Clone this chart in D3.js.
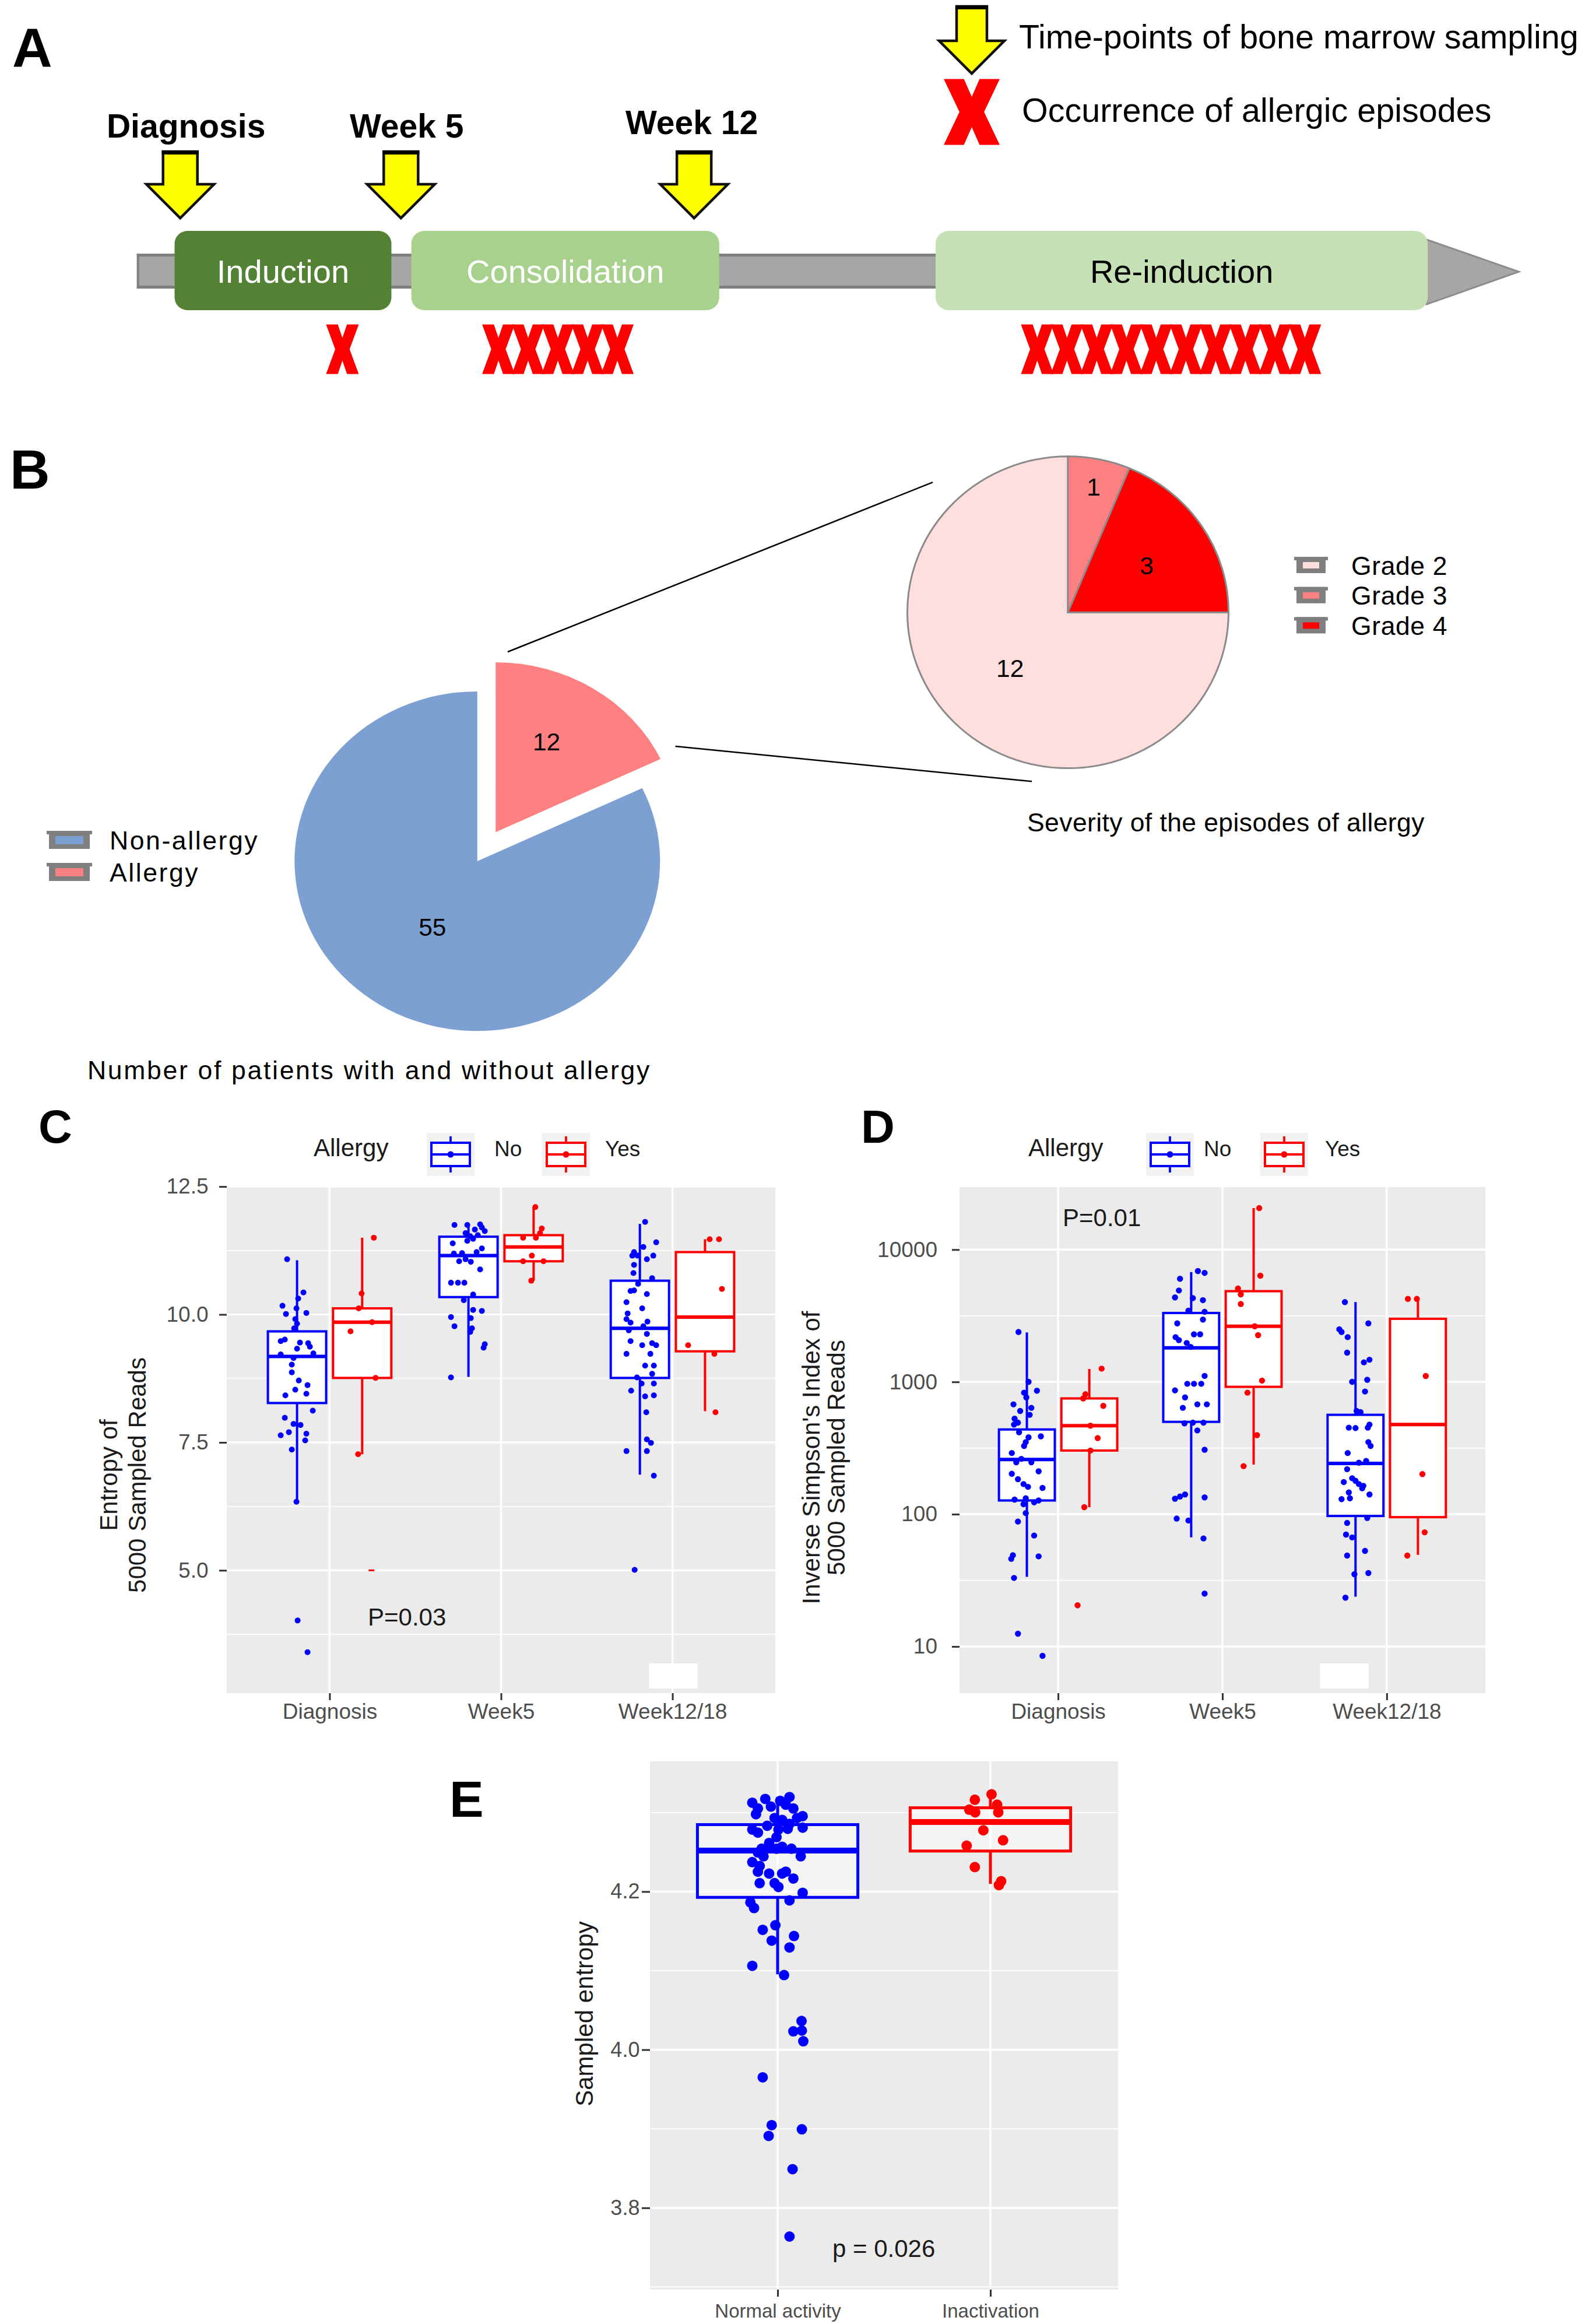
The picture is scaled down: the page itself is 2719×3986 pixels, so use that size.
<!DOCTYPE html>
<html><head><meta charset="utf-8">
<script src="https://cdn.jsdelivr.net/npm/d3@7/dist/d3.min.js"></script>
<style>html,body{margin:0;padding:0;background:#fff;} svg{display:block;}</style>
</head><body>
<svg id="fig" width="2719" height="3986" xmlns="http://www.w3.org/2000/svg"></svg>
<script>
// ===================== DATA =====================
// Panel A
const phaseNames = ["Induction", "Consolidation", "Re-induction"];
const phaseStartWeek = [0, 5.46, 17.55];
const phaseEndWeek = [5, 12.56, 28.9];
const timepointNames = ["Diagnosis", "Week 5", "Week 12"];
const timepointWeeks = [0.13, 5.22, 11.98];
const episodeCounts = [1, 5, 10];
const episodeCenterWeeks = [3.87, 8.84, 22.98];
const timelineWeeks = [-0.87, 31.0];
const legendA = ["Time-points of bone marrow sampling", "Occurrence of allergic episodes"];

// Panel B
const allergyPieLabels = ["Non-allergy", "Allergy"];
const allergyPieValues = [55, 12];
const gradeLabels = ["Grade 2", "Grade 3", "Grade 4"];
const gradeValues = [12, 1, 3];
const captionMain = "Number of patients with and without allergy";
const captionSeverity = "Severity of the episodes of allergy";

// Panels C & D (shared)
const timeCategories = ["Diagnosis", "Week5", "Week12/18"];
const allergyGroups = ["No", "Yes"];

// Panel C : entropy. stats = [lower whisker, Q1, median, Q3, upper whisker]
const cTicks = [5.0, 7.5, 10.0, 12.5];
const cMinorTicks = [3.75, 6.25, 8.75, 11.25];
const cDomain = [2.6, 12.49];
const cStatsNo = [[6.34, 8.27, 9.18, 9.67, 11.06], [8.78, 10.34, 11.15, 11.52, 11.77], [6.87, 8.76, 9.73, 10.66, 11.77]];
const cStatsYes = [[7.27, 8.76, 9.85, 10.12, 11.50], [10.66, 11.04, 11.32, 11.55, 12.10], [8.11, 9.28, 9.95, 11.22, 11.47]];
// points: [jitter (fraction of box width), value]
const cNoDiagnosis = [[-0.17,11.08],[0.11,10.43],[0.02,10.31],[-0.25,10.17],[-0.01,10.12],[-0.19,10.01],[0.16,10.03],[-0.03,9.91],[0,9.82],[-0.05,9.73],[-0.21,9.51],[-0.28,9.48],[0.05,9.45],[0.19,9.44],[0.22,9.37],[0,9.33],[0.28,9.24],[-0.28,9.22],[-0.06,9.15],[-0.09,9.02],[-0.09,8.87],[0.03,8.71],[0.18,8.62],[-0.03,8.53],[-0.2,8.42],[0.16,8.45],[0.27,8.12],[-0.21,7.98],[-0.06,7.86],[0.06,7.84],[-0.28,7.64],[-0.14,7.70],[0.16,7.67],[0.14,7.54],[-0.09,7.36],[-0.01,6.34],[0.01,4.02],[0.18,3.40]];
const cNoWeek5 = [[-0.24,11.75],[-0.02,11.75],[0.2,11.76],[0.23,11.70],[0.11,11.66],[0.28,11.63],[-0.05,11.59],[0.03,11.53],[0.16,11.55],[0.08,11.48],[-0.02,11.44],[-0.27,11.39],[0.23,11.29],[0.14,11.22],[-0.11,11.20],[-0.25,11.19],[-0.05,11.08],[-0.16,11.04],[0.04,11.03],[0.2,10.88],[-0.3,10.62],[-0.18,10.62],[-0.07,10.62],[0.08,10.39],[-0.08,10.28],[0.08,10.09],[0.23,10.07],[-0.3,9.95],[0.04,9.93],[-0.24,9.77],[0.06,9.73],[0.03,9.66],[0.28,9.42],[0.26,9.35],[-0.3,8.77]];
const cNoWeek12 = [[0.09,11.81],[0.28,11.41],[0.06,11.32],[-0.1,11.22],[-0.04,11.15],[-0.13,11.15],[0.23,11.15],[0.12,11.08],[-0.1,10.97],[-0.11,10.81],[0.21,10.71],[-0.03,10.60],[-0.1,10.47],[0.12,10.40],[-0.16,10.46],[-0.23,10.24],[0.04,10.12],[-0.21,10.02],[-0.23,9.91],[-0.16,9.84],[0.13,9.86],[0.06,9.77],[-0.19,9.69],[0.12,9.62],[-0.16,9.48],[0.04,9.40],[0.21,9.44],[0.28,9.40],[-0.23,9.23],[0.18,9.23],[0.09,9.00],[0.24,9.00],[0.21,8.84],[-0.05,8.77],[0.24,8.65],[0.03,8.65],[-0.15,8.51],[0.09,8.40],[0.24,8.42],[0.11,8.09],[0.12,7.56],[0.19,7.49],[-0.23,7.33],[0.12,7.33],[0.24,6.85],[-0.09,5.01]];
const cYesDiagnosis = [[0.2,11.50],[-0.01,10.41],[-0.06,10.12],[-0.2,9.67],[0.17,9.85],[0.23,8.76],[-0.07,7.27]];
const cYesDiagnosisFaint = [[0.16,5.0]];
const cYesWeek5 = [[0.03,12.10],[0.14,11.68],[0.11,11.59],[-0.18,11.50],[0.04,11.50],[-0.03,11.15],[-0.18,11.04],[0.17,11.04],[-0.04,10.66]];
const cYesWeek12 = [[0.08,11.47],[0.24,11.47],[0.29,10.50],[-0.29,9.40],[0.16,9.23],[0.18,8.09]];

// Panel D : inverse Simpson (log scale)
const dTicks = [10, 100, 1000, 10000];
const dMinorTicks = [31.62, 316.2, 3162];
const dDomain = [4.44, 29700];
const dStatsNo = [[33.6, 127, 259, 437, 2366], [66.8, 499, 1807, 3319, 6761], [23.8, 97, 242, 564, 4010]];
const dStatsYes = [[113, 303, 467, 750, 1253], [237, 918, 2635, 4850, 20600], [49.3, 95, 476, 3000, 4240]];
const dNoDiagnosis = [[-0.15,2384],[0.03,1002],[0.18,858],[-0.05,829],[-0.01,764],[-0.24,677],[0.08,637],[-0.12,603],[0.05,564],[-0.22,527],[-0.16,492],[-0.23,476],[-0.14,416],[0.25,388],[0.03,381],[-0.02,351],[-0.05,328],[-0.27,290],[-0.1,262],[-0.19,247],[0.08,247],[0.21,211],[-0.27,202],[-0.16,184],[-0.06,169],[0.02,161],[0.28,158],[-0.22,129],[-0.02,132],[0.21,127],[-0.06,119],[0.13,123],[-0.02,102],[-0.16,88],[0.13,69],[-0.25,49],[-0.28,46],[0.21,48],[-0.23,33],[-0.16,12.5],[0.28,8.5]];
const dNoWeek5 = [[0.12,6890],[0.24,6670],[-0.2,6020],[-0.22,4910],[-0.29,4350],[0.03,4300],[0.21,4150],[-0.05,3460],[0.24,3390],[-0.25,2770],[0.21,2960],[0.05,2290],[0.16,2290],[-0.28,2180],[-0.22,2070],[-0.08,1970],[-0.01,1840],[0.24,1110],[0.18,968],[-0.07,968],[0.05,968],[-0.29,863],[-0.11,764],[0.11,677],[0.28,677],[-0.15,637],[0.03,492],[-0.12,486],[0.22,492],[0.11,430],[0.24,307],[-0.2,136],[-0.11,141],[-0.29,131],[0.24,134],[-0.26,92.7],[-0.05,89.6],[0.22,65.6],[0.24,25.1]];
const dNoWeek12 = [[-0.19,4010],[0.23,2770],[-0.29,2500],[-0.25,2385],[-0.14,2180],[-0.15,1664],[0.25,1472],[0.15,1405],[0.21,1038],[-0.06,1002],[0.17,846],[0.02,603],[0.09,591],[0.25,476],[-0.12,451],[0,448],[0.22,451],[0.23,351],[0.27,328],[-0.14,290],[0.19,253],[0.06,245],[-0.15,219],[-0.06,187],[-0.21,175],[0.06,169],[0,179],[0.14,164],[0.12,157],[-0.12,146],[0.25,141],[-0.25,130],[-0.1,132],[0.21,93.7],[-0.15,85.9],[-0.17,70.2],[-0.06,66.8],[0.17,52.8],[-0.15,48.7],[-0.02,35.2],[0.23,35.9],[-0.18,23.4]];
const dYesDiagnosis = [[0.22,1260],[-0.07,807],[-0.11,750],[0.25,659],[0.02,467],[0.15,376],[0.02,303],[-0.09,113],[-0.21,20.5]];
const dYesWeek5 = [[0.1,20600],[0.12,6350],[-0.28,5080],[-0.23,4590],[-0.23,3880],[0.02,2635],[0.08,2255],[0.15,1023],[-0.11,829],[0.06,396],[-0.18,231]];
const dYesWeek12 = [[-0.18,4240],[-0.02,4240],[0.14,1109],[0.08,201],[0.12,73],[-0.19,48.7]];

// Panel E : sampled entropy
const eCategories = ["Normal activity", "Inactivation"];
const eTicks = [3.8, 4.0, 4.2];
const eMinorTicks = [3.7, 3.9, 4.1, 4.3];
const eDomain = [3.6966, 4.3647];
const eStats = [[4.0954, 4.1927, 4.2518, 4.2847, 4.3196], [4.2097, 4.2513, 4.2881, 4.306, 4.3245]];
const eNormal = [[-0.158,4.3124],[-0.123,4.3051],[-0.077,4.3172],[-0.042,4.3075],[0.016,4.3148],[0.074,4.3196],[0.051,4.3099],[0.098,4.3051],[0.156,4.2954],[0.121,4.2930],[-0.135,4.2978],[-0.019,4.2930],[0.028,4.2906],[0.074,4.2857],[-0.065,4.2833],[-0.158,4.2785],[-0.123,4.2746],[0.005,4.2785],[0.063,4.2794],[0.156,4.2809],[-0.007,4.2688],[-0.053,4.2615],[-0.1,4.2542],[-0.123,4.2494],[-0.088,4.2446],[-0.007,4.2542],[0.028,4.2567],[0.086,4.2542],[0.144,4.2446],[-0.158,4.2373],[-0.112,4.2324],[-0.123,4.2252],[-0.053,4.2228],[0.028,4.2228],[0.051,4.2252],[0.098,4.2165],[-0.112,4.2107],[-0.019,4.2107],[0.005,4.2058],[0.156,4.1985],[-0.17,4.1864],[-0.147,4.1792],[0.074,4.1889],[-0.093,4.1516],[-0.014,4.1574],[-0.037,4.1380],[0.102,4.1438],[0.074,4.1293],[-0.158,4.1061],[0.04,4.0944],[0.149,4.0363],[0.098,4.0232],[0.151,4.0242],[0.16,4.0107],[-0.093,3.9651],[-0.037,3.9046],[-0.056,3.8910],[0.151,3.8993],[0.093,3.8489],[0.074,3.7637]];
const eInactivation = [[-0.097,4.3162],[0.007,4.3230],[-0.132,4.3036],[-0.095,4.3002],[0.042,4.3099],[0.049,4.3002],[-0.044,4.2775],[0.079,4.2649],[-0.148,4.2581],[-0.097,4.2310],[0.067,4.2131],[0.053,4.2082]];

// ===================== DRAWING =====================
const FONT = "'Liberation Sans', Arial, Helvetica, sans-serif";
const BLUE = "#0000FF", RED = "#FF0000";
const svg = d3.select("#fig");
svg.append("rect").attr("width", 2719).attr("height", 3986).attr("fill", "#fff");

function txt(g, x, y, s, o = {}) {
  const t = g.append("text").attr("x", x).attr("y", y).text(s)
    .attr("font-family", FONT).attr("font-size", o.size || 40).attr("fill", o.fill || "#000");
  if (o.weight) t.attr("font-weight", o.weight);
  if (o.anchor) t.attr("text-anchor", o.anchor);
  if (o.ls !== undefined) t.attr("letter-spacing", o.ls);
  if (o.baseline) t.attr("dominant-baseline", o.baseline);
  return t;
}

// panel letters
[["A", 21, 115, 95], ["B", 17, 838, 95], ["C", 66, 1960, 80], ["D", 1477, 1960, 80], ["E", 771, 3116, 88]]
  .forEach(([l, x, y, s]) => txt(svg, x, y, l, { size: s, weight: "bold" }));

// ---------- Panel A ----------
const gA = svg.append("g");
const weekX = d3.scaleLinear().domain([0, 28.93]).range([299.5, 2451.5]);
const barTop = 435, barBot = 495, barMid = 466;

function xMarkPath(cx, cy, w, h) {
  const p = [[0,0],[0.36,0],[0.5,0.27],[0.64,0],[1,0],[0.72,0.5],[1,1],[0.64,1],[0.5,0.73],[0.36,1],[0,1],[0.28,0.5]];
  return "M" + p.map(([u, v]) => [cx - w / 2 + u * w, cy - h / 2 + v * h].join(",")).join("L") + "Z";
}
function yellowArrow(g, cx, top, headY, tip, hs, hh) {
  const pts = [[cx - hs, top], [cx + hs, top], [cx + hs, headY], [cx + hh, headY], [cx, tip], [cx - hh, headY], [cx - hs, headY]];
  g.append("polygon").attr("points", pts.map(p => p.join(",")).join(" "))
    .attr("fill", "#FFFF00").attr("stroke", "#111").attr("stroke-width", 4.5).attr("stroke-linejoin", "miter");
  g.append("rect").attr("x", cx - hs - 2).attr("y", top - 2).attr("width", 2 * hs + 4).attr("height", 7).attr("fill", "#000");
}

// timeline bar
const x0 = weekX(timelineWeeks[0]), xHead = weekX(phaseEndWeek[2]), xTip = weekX(timelineWeeks[1]);
gA.append("rect").attr("x", x0).attr("y", barTop).attr("width", xHead - x0).attr("height", barBot - barTop).attr("fill", "#A6A6A6");
gA.append("line").attr("x1", x0).attr("x2", xHead).attr("y1", barTop + 2.5).attr("y2", barTop + 2.5).attr("stroke", "#7F7F7F").attr("stroke-width", 5);
gA.append("line").attr("x1", x0).attr("x2", xHead).attr("y1", barBot - 2.5).attr("y2", barBot - 2.5).attr("stroke", "#7F7F7F").attr("stroke-width", 5);
gA.append("line").attr("x1", x0 + 2).attr("x2", x0 + 2).attr("y1", barTop).attr("y2", barBot).attr("stroke", "#7F7F7F").attr("stroke-width", 4);
gA.append("polygon").attr("points", [[xHead - 2, 411], [xTip, barMid], [xHead - 2, 522]].map(p => p.join(",")).join(" "))
  .attr("fill", "#A6A6A6").attr("stroke", "#8C8C8C").attr("stroke-width", 3);

// phases
const phaseFill = ["#548235", "#A9D18E", "#C5E0B4"];
const phaseInk = ["#FFFFFF", "#FFFFFF", "#000000"];
phaseNames.forEach((n, i) => {
  const xa = weekX(phaseStartWeek[i]), xb = weekX(phaseEndWeek[i]);
  gA.append("rect").attr("x", xa).attr("y", 396).attr("width", xb - xa).attr("height", 136)
    .attr("rx", 22).attr("ry", 22).attr("fill", phaseFill[i]);
  txt(gA, (xa + xb) / 2, 485, n, { size: 56, anchor: "middle", fill: phaseInk[i] });
});

// episodes
episodeCounts.forEach((c, i) => {
  const step = 51, w = 56, h = 85;
  const cx0 = weekX(episodeCenterWeeks[i]) - (c - 1) * step / 2;
  for (let k = 0; k < c; k++) {
    gA.append("path").attr("d", xMarkPath(cx0 + k * step, 599, w, h)).attr("fill", "#FF0000");
  }
});

// sampling arrows
const labelShift = [[10, 0], [10, 0], [-4, -6]];
timepointNames.forEach((n, i) => {
  const cx = weekX(timepointWeeks[i]);
  yellowArrow(gA, cx, 260, 316, 374, 29.5, 58);
  txt(gA, cx + labelShift[i][0], 236 + labelShift[i][1], n, { size: 57, weight: "bold", anchor: "middle" });
});

// legend A
yellowArrow(gA, 1667, 11, 70, 126, 26, 56);
gA.append("path").attr("d", xMarkPath(1667, 192, 96, 113)).attr("fill", "#FF0000");
txt(gA, 1748, 83, legendA[0], { size: 57.5 });
txt(gA, 1753, 209, legendA[1], { size: 57.5 });

// ---------- Panel B ----------
const gB = svg.append("g");
function swatch(g, x, y, w, h, fill) {
  g.append("rect").attr("x", x).attr("y", y).attr("width", w).attr("height", h).attr("fill", "#7F7F7F");
  g.append("rect").attr("x", x - 4).attr("y", y).attr("width", w + 8).attr("height", 6).attr("fill", "#7F7F7F");
  g.append("rect").attr("x", x + 11).attr("y", y + 9).attr("width", w - 22).attr("height", h - 17).attr("fill", fill);
}
// main pie (elliptical)
const mainC = [818.8, 1477.1], mainRx = 313.5, mainRy = 291.2;
const mainColors = ["#7DA0D2", "#FF8080"];
const mainStart = 2 * Math.PI * allergyPieValues[1] / d3.sum(allergyPieValues);
const mainPie = d3.pie().sort(null).startAngle(mainStart).endAngle(mainStart + 2 * Math.PI)(allergyPieValues);
const arcMain = d3.arc().innerRadius(0).outerRadius(mainRy);
const mainLabelR = [0.46, 0.6];
mainPie.forEach((s, i) => {
  const mid = (s.startAngle + s.endAngle) / 2;
  const explode = i === 1 ? 59 : 0;
  const ox = mainC[0] + explode * Math.sin(mid), oy = mainC[1] - explode * Math.cos(mid);
  const g = gB.append("g").attr("transform", `translate(${ox},${oy}) scale(${mainRx / mainRy},1)`);
  g.append("path").attr("d", arcMain(s)).attr("fill", mainColors[i]);
  const lr = mainLabelR[i] * mainRy;
  const la = i === 1 ? mid - 0.08 : mid;
  txt(gB, ox + lr * Math.sin(la) * mainRx / mainRy, oy - lr * Math.cos(la), String(allergyPieValues[i]),
    { size: 42.5, anchor: "middle", baseline: "central" });
});
// severity pie
const sevC = [1832, 1050.2], sevRx = 275.5, sevRy = 267.4;
const gradeColors = ["#FFDEDE", "#FF8080", "#FF0000"];
const sevStart = 2 * Math.PI * (gradeValues[1] + gradeValues[2]) / d3.sum(gradeValues);
const sevPie = d3.pie().sort(null).startAngle(sevStart).endAngle(sevStart + 2 * Math.PI)(gradeValues);
const arcSev = d3.arc().innerRadius(0).outerRadius(sevRy);
const gSev = gB.append("g").attr("transform", `translate(${sevC[0]},${sevC[1]}) scale(${sevRx / sevRy},1)`);
const sevLabelR = [0.51, 0.82, 0.59];
sevPie.forEach((s, i) => {
  gSev.append("path").attr("d", arcSev(s)).attr("fill", gradeColors[i])
    .attr("stroke", "#8A8A8A").attr("stroke-width", 3).attr("vector-effect", "non-scaling-stroke");
});
sevPie.forEach((s, i) => {
  const mid = (s.startAngle + s.endAngle) / 2, lr = sevLabelR[i] * sevRy;
  txt(gB, sevC[0] + lr * Math.sin(mid) * sevRx / sevRy, sevC[1] - lr * Math.cos(mid) + (i === 2 ? 8 : 0), String(gradeValues[i]),
    { size: 42.5, anchor: "middle", baseline: "central" });
});
// connector lines
gB.append("line").attr("x1", 871).attr("y1", 1118).attr("x2", sevC[0] - 232).attr("y2", sevC[1] - 223).attr("stroke", "#000").attr("stroke-width", 2.5);
gB.append("line").attr("x1", 1158.6).attr("y1", 1280).attr("x2", sevC[0] - 62).attr("y2", sevC[1] + 290).attr("stroke", "#000").attr("stroke-width", 2.5);
// legends B
allergyPieLabels.forEach((l, i) => {
  swatch(gB, 84, 1425 + i * 55, 70, 31, mainColors[i]);
  txt(gB, 188, 1457 + i * 55, l, { size: 44.5, ls: 2.6 });
});
gradeLabels.forEach((l, i) => {
  swatch(gB, 2224, 955 + i * 51.7, 50, 28, gradeColors[i]);
  txt(gB, 2318, 985.5 + i * 51.7, l, { size: 44.5, ls: 0.6 });
});
txt(gB, 150, 1851, captionMain, { size: 44.5, ls: 2.7 });
txt(gB, 1762, 1426, captionSeverity, { size: 44.5, ls: 0.4 });

// ---------- Box-plot panels ----------
function drawBoxPanel(cfg) {
  const g = svg.append("g");
  const x = d3.scalePoint().domain(cfg.categories).range([cfg.left, cfg.right]).padding(0.6);
  const step = x.step();
  const y = cfg.yScale.domain(cfg.domain).range([cfg.bottom, cfg.top]);
  g.append("rect").attr("x", cfg.left).attr("y", cfg.top).attr("width", cfg.right - cfg.left)
    .attr("height", cfg.bottom - cfg.top).attr("fill", "#EBEBEB");
  g.selectAll("line.minor").data(cfg.minor).join("line").attr("class", "minor")
    .attr("x1", cfg.left).attr("x2", cfg.right).attr("y1", d => y(d)).attr("y2", d => y(d))
    .attr("stroke", "#FFFFFF").attr("stroke-width", 1.7);
  g.selectAll("line.major").data(cfg.major).join("line").attr("class", "major")
    .attr("x1", cfg.left).attr("x2", cfg.right).attr("y1", d => y(d)).attr("y2", d => y(d))
    .attr("stroke", "#FFFFFF").attr("stroke-width", 3.3);
  g.selectAll("line.vmajor").data(cfg.categories).join("line").attr("class", "vmajor")
    .attr("x1", d => x(d)).attr("x2", d => x(d)).attr("y1", cfg.top).attr("y2", cfg.bottom)
    .attr("stroke", "#FFFFFF").attr("stroke-width", 3.3);
  if (cfg.block) {
    const bx = x(cfg.block.cat);
    g.append("rect").attr("x", bx + cfg.block.dx[0]).attr("y", cfg.bottom - 51)
      .attr("width", cfg.block.dx[1] - cfg.block.dx[0]).attr("height", 43).attr("fill", "#FFFFFF");
  }
  cfg.boxes.forEach(b => {
    const cx = x(b.cat) + b.offset * step, bw = b.width * step;
    const [lo, q1, med, q3, hi] = b.stats;
    g.append("line").attr("x1", cx).attr("x2", cx).attr("y1", y(hi)).attr("y2", y(q3)).attr("stroke", b.color).attr("stroke-width", cfg.sw);
    g.append("line").attr("x1", cx).attr("x2", cx).attr("y1", y(q1)).attr("y2", y(lo)).attr("stroke", b.color).attr("stroke-width", cfg.sw);
    g.append("rect").attr("x", cx - bw / 2).attr("y", y(q3)).attr("width", bw).attr("height", y(q1) - y(q3))
      .attr("fill", cfg.boxFill).attr("stroke", b.color).attr("stroke-width", cfg.sw);
    g.append("line").attr("x1", cx - bw / 2).attr("x2", cx + bw / 2).attr("y1", y(med)).attr("y2", y(med))
      .attr("stroke", b.color).attr("stroke-width", cfg.medW);
  });
  cfg.boxes.forEach(b => {
    const cx = x(b.cat) + b.offset * step, bw = b.width * step;
    g.selectAll(null).data(b.points).join("circle")
      .attr("cx", d => cx + d[0] * bw).attr("cy", d => y(d[1])).attr("r", cfg.r).attr("fill", b.color);
    if (b.faint) g.selectAll(null).data(b.faint).join("line")
      .attr("x1", d => cx + d[0] * bw - 5).attr("x2", d => cx + d[0] * bw + 5)
      .attr("y1", d => y(d[1])).attr("y2", d => y(d[1])).attr("stroke", b.color).attr("stroke-width", 3);
  });
  // y axis
  const ya = d3.axisLeft(y).tickValues(cfg.major).tickFormat(cfg.fmt).tickSize(cfg.yTick[0]).tickPadding(cfg.yTick[1]);
  const yg = g.append("g").attr("transform", `translate(${cfg.left},0)`).call(ya);
  yg.select(".domain").remove();
  yg.selectAll(".tick line").attr("stroke", "#333").attr("stroke-width", 3);
  yg.selectAll(".tick text").attr("font-family", FONT).attr("font-size", cfg.yFont).attr("fill", "#4D4D4D");
  // x axis
  const xa = d3.axisBottom(x).tickSize(cfg.xTick[0]).tickPadding(cfg.xTick[1]);
  const xg = g.append("g").attr("transform", `translate(0,${cfg.bottom})`).call(xa);
  xg.select(".domain").remove();
  xg.selectAll(".tick line").attr("stroke", "#333").attr("stroke-width", 3);
  xg.selectAll(".tick text").attr("font-family", FONT).attr("font-size", cfg.xFont).attr("fill", "#4D4D4D");
  // y title
  cfg.yTitle.forEach((line, i) => {
    g.append("text").attr("transform", `translate(${cfg.yTitleX[i]},${cfg.yTitleY}) rotate(-90)`)
      .attr("text-anchor", "middle").attr("font-family", FONT).attr("font-size", 42).attr("fill", "#1A1A1A").text(line);
  });
  txt(g, cfg.pText[1], cfg.pText[2], cfg.pText[0], { size: 42, fill: "#1A1A1A" });
  return { g, x, y, step };
}

function allergyLegend(g, titleX, keyX, labelX, keyColor) {
  txt(g, titleX, 1983, "Allergy", { size: 42, fill: "#1A1A1A" });
  allergyGroups.forEach((lab, i) => {
    const kx = keyX[i], col = keyColor[i];
    g.append("rect").attr("x", kx).attr("y", 1943).attr("width", 82).attr("height", 74).attr("fill", "#F2F2F2");
    const cx = kx + 41;
    g.append("line").attr("x1", cx).attr("x2", cx).attr("y1", 1949).attr("y2", 2011).attr("stroke", col).attr("stroke-width", 3.8);
    g.append("rect").attr("x", kx + 8).attr("y", 1960).attr("width", 66).attr("height", 40).attr("fill", "#FFFFFF").attr("stroke", col).attr("stroke-width", 4);
    g.append("line").attr("x1", kx + 8).attr("x2", kx + 74).attr("y1", 1980).attr("y2", 1980).attr("stroke", col).attr("stroke-width", 3.8);
    g.append("circle").attr("cx", cx).attr("cy", 1980).attr("r", 5.5).attr("fill", col);
    txt(g, labelX[i], 1983, lab, { size: 37, fill: "#1A1A1A" });
  });
}

function buildBoxes(stats2, pts2, faint2) {
  const out = [];
  allergyGroups.forEach((grp, gi) => {
    timeCategories.forEach((cat, ci) => {
      out.push({ cat, offset: gi === 0 ? -0.19 : 0.19, width: 0.34, color: gi === 0 ? BLUE : RED,
        stats: stats2[gi][ci], points: pts2[gi][ci], faint: faint2 ? faint2[gi][ci] : null });
    });
  });
  return out;
}

// Panel C
const pc = drawBoxPanel({
  categories: timeCategories, left: 389, right: 1330, top: 2036, bottom: 2904,
  yScale: d3.scaleLinear(), domain: cDomain, major: cTicks, minor: cMinorTicks, fmt: d3.format(".1f"),
  boxes: buildBoxes([cStatsNo, cStatsYes],
    [[cNoDiagnosis, cNoWeek5, cNoWeek12], [cYesDiagnosis, cYesWeek5, cYesWeek12]],
    [[null, null, null], [cYesDiagnosisFaint, null, null]]),
  boxFill: "#FFFFFF", sw: 4, medW: 6, r: 5,
  yTick: [13, 18.5], xTick: [12, 6], yFont: 37, xFont: 37,
  yTitle: ["Entropy of", "5000 Sampled Reads"], yTitleX: [200.5, 250], yTitleY: 2530,
  pText: ["P=0.03", 631, 2788], block: { cat: "Week12/18", dx: [-40, 43] }
});
allergyLegend(pc.g, 538, [732, 930], [848, 1038], [BLUE, RED]);

// Panel D
const pd = drawBoxPanel({
  categories: timeCategories, left: 1646, right: 2548, top: 2036, bottom: 2904,
  yScale: d3.scaleLog(), domain: dDomain, major: dTicks, minor: dMinorTicks, fmt: d3.format("d"),
  boxes: buildBoxes([dStatsNo, dStatsYes],
    [[dNoDiagnosis, dNoWeek5, dNoWeek12], [dYesDiagnosis, dYesWeek5, dYesWeek12]], null),
  boxFill: "#FFFFFF", sw: 4, medW: 6, r: 5.2,
  yTick: [13, 25], xTick: [12, 6], yFont: 37, xFont: 37,
  yTitle: ["Inverse Simpson's Index of", "5000 Sampled Reads"], yTitleX: [1406, 1449], yTitleY: 2500,
  pText: ["P=0.01", 1823, 2103], block: { cat: "Week12/18", dx: [-114.5, -31] }
});
allergyLegend(pd.g, 1764, [1966, 2162], [2065, 2273], [BLUE, RED]);

// Panel E
drawBoxPanel({
  categories: eCategories, left: 1115, right: 1918, top: 3021, bottom: 3927,
  yScale: d3.scaleLinear(), domain: eDomain, major: eTicks, minor: eMinorTicks, fmt: d3.format(".1f"),
  boxes: [
    { cat: eCategories[0], offset: 0, width: 0.754, color: BLUE, stats: eStats[0], points: eNormal },
    { cat: eCategories[1], offset: 0, width: 0.754, color: RED, stats: eStats[1], points: eInactivation }
  ],
  boxFill: "rgba(255,255,255,0.45)", sw: 5, medW: 10, r: 9,
  yTick: [14, 3.6], xTick: [12, 12.5], yFont: 36, xFont: 33,
  yTitle: ["Sampled entropy"], yTitleX: [1017], yTitleY: 3454,
  pText: ["p = 0.026", 1428, 3871]
});
</script>
</body></html>
